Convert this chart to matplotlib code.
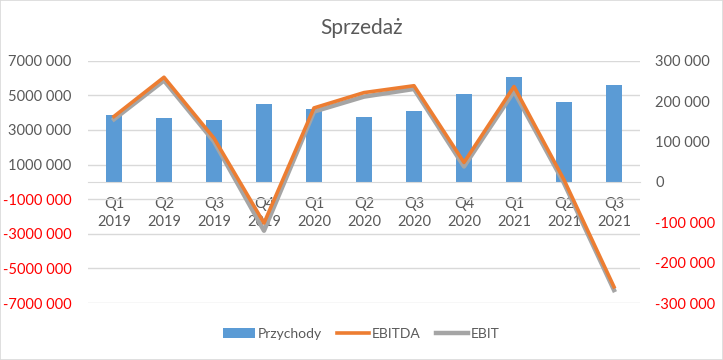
import numpy as np
import matplotlib
matplotlib.use("Agg")
import matplotlib.pyplot as plt
from matplotlib.patches import Rectangle

# data
quarters = ["Q1\n2019", "Q2\n2019", "Q3\n2019", "Q4\n2019", "Q1\n2020", "Q2\n2020",
            "Q3\n2020", "Q4\n2020", "Q1\n2021", "Q2\n2021", "Q3\n2021"]
przychody = [3870000, 3690000, 3580000, 4500000, 4210000, 3750000,
             4100000, 5080000, 6060000, 4620000, 5600000]
ebitda = [162000, 259000, 108000, -102000, 183000, 221000,
          238000, 48000, 236000, 5000, -260000]
ebit = [155000, 251000, 100000, -121000, 174000, 211000,
        230000, 38000, 224000, -3000, -268000]

left_ticks = [-7000000, -5000000, -3000000, -1000000, 1000000, 3000000, 5000000, 7000000]
left_labels = ["-7000 000", "-5000 000", "-3000 000", "-1000 000",
               "1000 000", "3000 000", "5000 000", "7000 000"]
right_ticks = [-300000, -200000, -100000, 0, 100000, 200000, 300000]
right_labels = ["-300 000", "-200 000", "-100 000", "0", "100 000", "200 000", "300 000"]

plt.rcParams["font.family"] = ["Lato", "DejaVu Sans"]
TXT = "#595959"
GRID = "#d9d9d9"

fig = plt.figure(figsize=(7.23, 3.6), dpi=100)
fig.patches.append(Rectangle((0, 0), 1, 1, transform=fig.transFigure,
                             fill=False, edgecolor=GRID, lw=1.2))
ax = fig.add_axes([0.1217, 0.1583, 0.7635, 0.6731])
ax2 = ax.twinx()

x = np.arange(len(quarters))
ax.bar(x, przychody, width=0.32, color="#5b9bd5", label="Przychody", zorder=2)
ax.set_ylim(-7000000, 7000000)
ax.set_xlim(-0.52, 10.52)
ax.set_yticks(left_ticks)
ax.set_yticklabels(left_labels)
ax.yaxis.grid(True, color=GRID, lw=1)
ax.set_axisbelow(True)
for s in ["top", "left", "right"]:
    ax.spines[s].set_visible(False)
ax.spines["bottom"].set_position(("data", 0))
ax.spines["bottom"].set_color(GRID)
ax.set_xticks(x)
ax.set_xticklabels(quarters, linespacing=1.35)
ax.tick_params(axis="x", length=0, pad=11, labelsize=10.5, labelcolor=TXT)
ax.tick_params(axis="y", length=0, pad=12, labelsize=10.5, labelcolor=TXT)
for t, v in zip(ax.get_yticklabels(), left_ticks):
    if v < 0:
        t.set_color("red")

ax2.plot(x, ebitda, color="#ed7d31", lw=2.6, label="EBITDA", zorder=3)
ax2.plot(x, ebit, color="#a5a5a5", lw=3.2, label="EBIT", zorder=2)
ax2.set_ylim(-300000, 300000)
ax2.set_yticks(right_ticks)
ax2.set_yticklabels(right_labels)
ax2.tick_params(axis="y", length=0, pad=11, labelsize=10.5, labelcolor=TXT)
for t, v in zip(ax2.get_yticklabels(), right_ticks):
    if v < 0:
        t.set_color("red")
for s in ax2.spines.values():
    s.set_visible(False)

fig.text(0.5, 0.922, "Sprzedaż", ha="center", va="center", fontsize=15, color=TXT)

h1, l1 = ax.get_legend_handles_labels()
h2, l2 = ax2.get_legend_handles_labels()
fig.legend(h1 + h2, l1 + l2, loc="center", bbox_to_anchor=(0.5, 0.072), ncol=3,
           frameon=False, fontsize=10, labelcolor=TXT, handlelength=2.3,
           handletextpad=0.2, columnspacing=1.1)

fig.savefig("out.png", dpi=100)
